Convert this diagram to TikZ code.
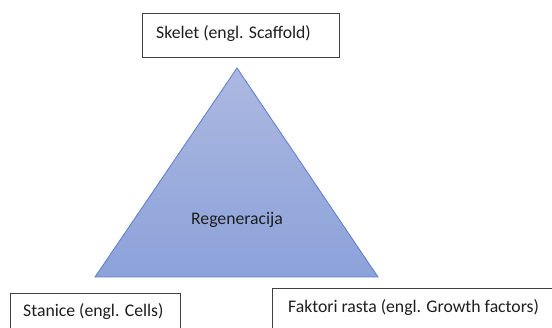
\documentclass[tikz,border=0pt]{standalone}
\usepackage{fontspec}
\setmainfont{Carlito}
\definecolor{triTop}{RGB}{172,184,224}
\definecolor{triBot}{RGB}{140,162,218}
\definecolor{triEdge}{RGB}{92,124,198}
\definecolor{boxEdge}{RGB}{64,64,64}
\definecolor{txt}{RGB}{30,30,30}
\tikzset{
  lbl/.style={anchor=base west, inner sep=0pt, text=txt, font=\fontsize{17.7}{20}\selectfont},
  box/.style={draw=boxEdge, line width=1.3pt, anchor=north west, inner sep=0pt},
}
\begin{document}
\begin{tikzpicture}[x=1pt,y=-1pt]
\useasboundingbox (0,0) rectangle (552,328);
\fill[white] (0,0) rectangle (552,328);
\clip (0,0) rectangle (552,328);
% triangle
\coordinate (tl) at (95,277);
\coordinate (tr) at (378,277);
\coordinate (ta) at (237,68);
\shade[top color=triTop, bottom color=triBot] (tl) -- (tr) -- (ta) -- cycle;
\draw[triEdge, line width=0.8pt, line join=miter] (tl) -- (tr) -- (ta) -- cycle;
\node[lbl, anchor=base] (reg) at (237,225) {Regeneracija};
% boxes
\node[box, minimum width=197pt, minimum height=44pt] (top) at (142,13) {};
\node[lbl] (toplbl) at (156,39) {Skelet (engl. Scaffold)};
\node[box, minimum width=170pt, minimum height=60pt] (left) at (10,293) {};
\node[lbl] (leftlbl) at (23,317) {Stanice (engl. Cells)};
\node[box, minimum width=300pt, minimum height=60pt] (right) at (272,288) {};
\node[lbl] (rightlbl) at (288,313) {Faktori rasta (engl. Growth factors)};
\end{tikzpicture}
\end{document}
